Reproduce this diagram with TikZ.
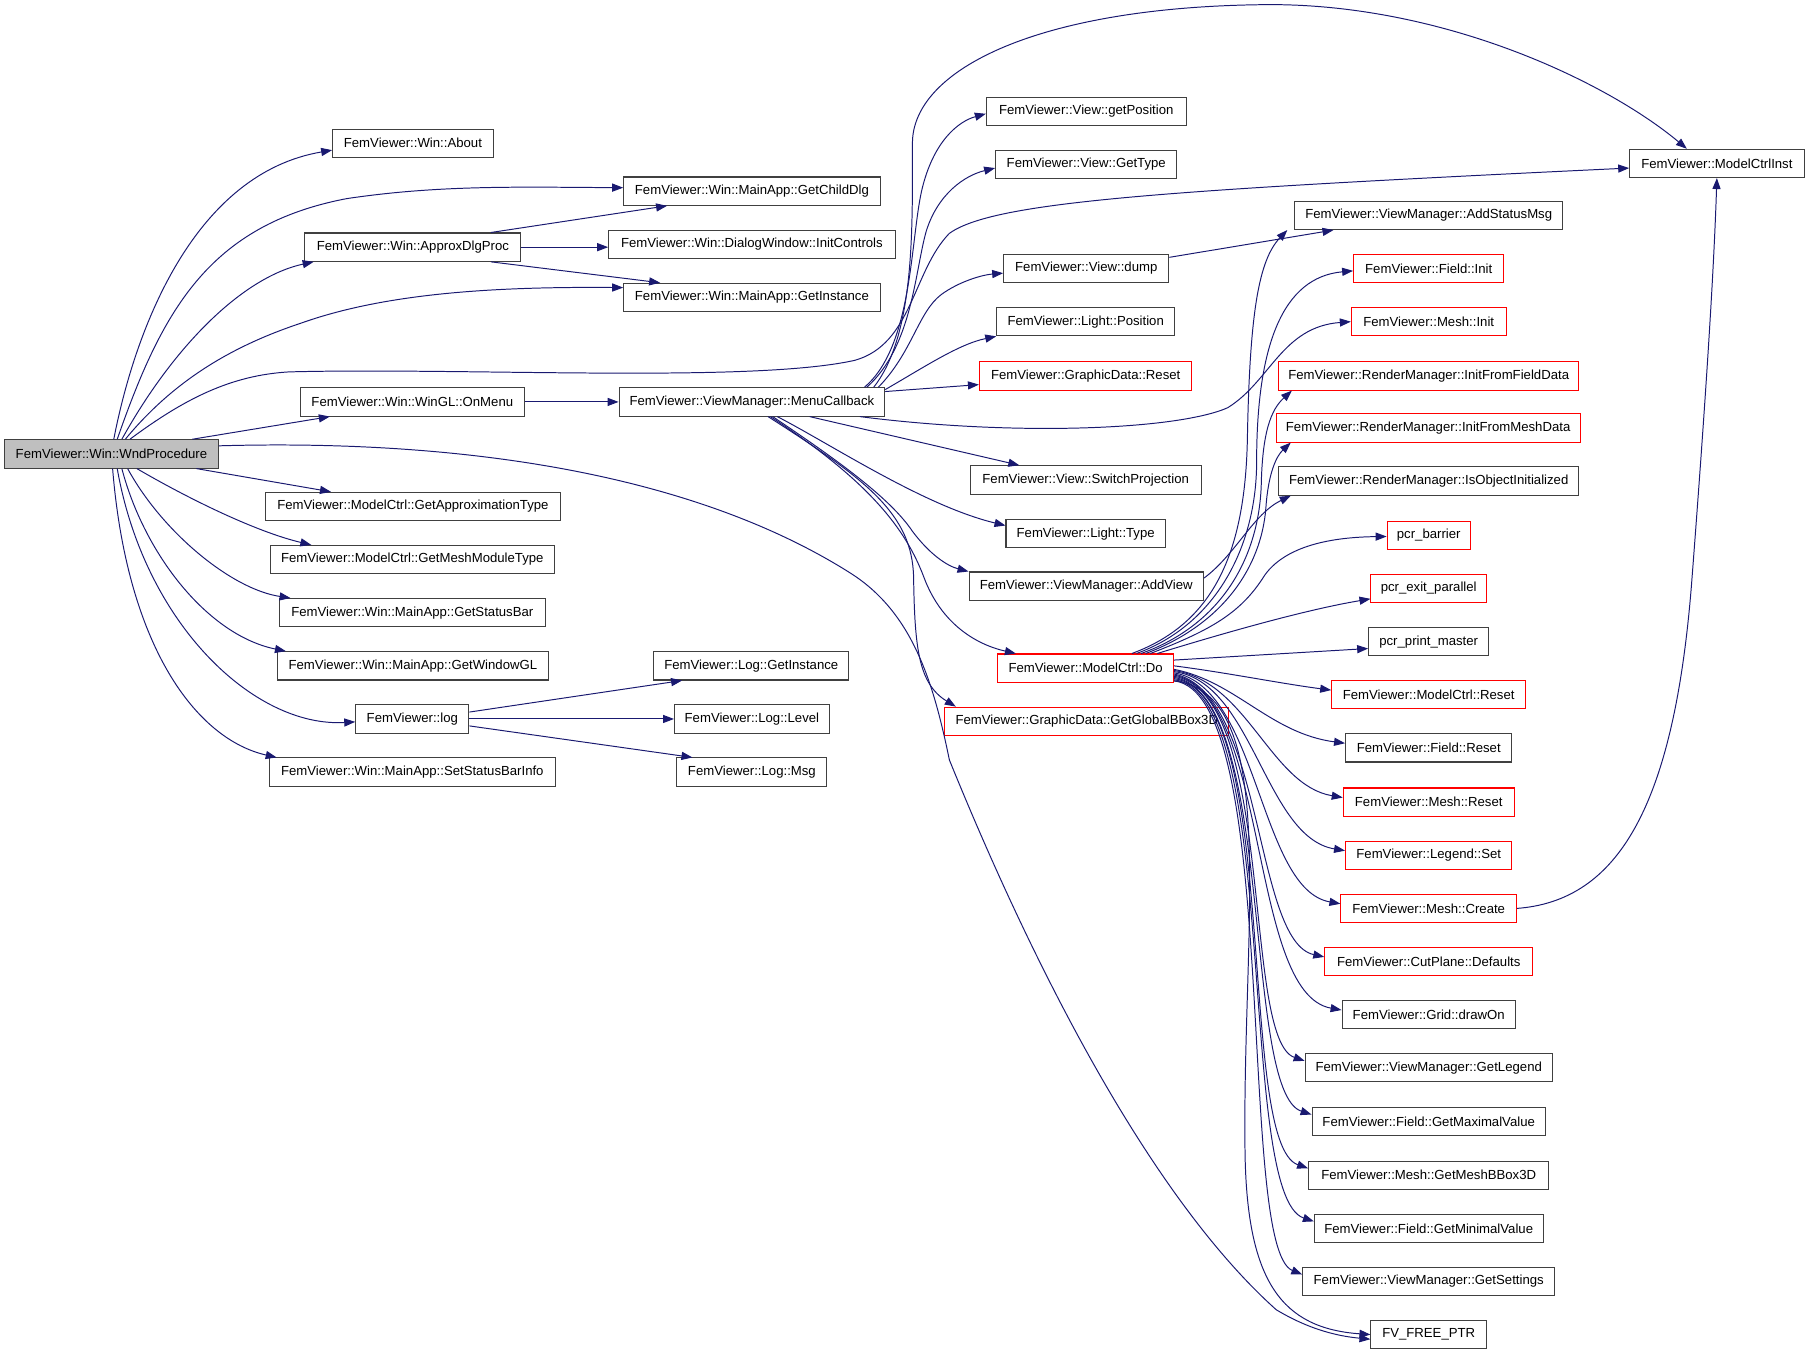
\documentclass[tikz,border=0pt]{standalone}
\usepackage{fontspec}
\setmainfont{Liberation Sans}
\usetikzlibrary{arrows.meta}
\definecolor{edgeblue}{HTML}{191970}
\definecolor{boxgray}{HTML}{404040}
\definecolor{boxred}{HTML}{FF0000}
\definecolor{rootfill}{HTML}{BFBFBF}
\newcommand\dxfont{\fontsize{11.4}{13}\selectfont}
\tikzset{
  fbox/.style={draw=boxgray, fill=white, line width=0.9pt, minimum height=24.5pt, inner sep=0pt, font=\dxfont},
  rbox/.style={fbox, draw=boxred},
  call/.style={draw=edgeblue, line width=0.85pt, -{Triangle[length=9.5pt,width=7pt]}},
}
\begin{document}
\begin{tikzpicture}[x=1pt,y=-1pt]
\useasboundingbox (0,0) rectangle (1568,1175);
% ---------- nodes ----------
\node[fbox, fill=rootfill, minimum width=185pt] (wnd) at (96.5,393) {FemViewer::Win::WndProcedure};
\node[fbox, minimum width=139pt] (about) at (357.5,124) {FemViewer::Win::About};
\node[fbox, minimum width=222pt] (childdlg) at (651,165.5) {FemViewer::Win::MainApp::GetChildDlg};
\node[fbox, minimum width=187pt] (approx) at (357.5,214) {FemViewer::Win::ApproxDlgProc};
\node[fbox, minimum width=248pt] (initctl) at (651,211.5) {FemViewer::Win::DialogWindow::InitControls};
\node[fbox, minimum width=222pt] (getinst) at (651,257.5) {FemViewer::Win::MainApp::GetInstance};
\node[fbox, minimum width=194pt] (onmenu) at (357,348) {FemViewer::Win::WinGL::OnMenu};
\node[fbox, minimum width=230pt] (menucb) at (651,348) {FemViewer::ViewManager::MenuCallback};
\node[fbox, minimum width=255pt] (approxtype) at (357.5,438.5) {FemViewer::ModelCtrl::GetApproximationType};
\node[fbox, minimum width=246pt] (meshmod) at (357,484.5) {FemViewer::ModelCtrl::GetMeshModuleType};
\node[fbox, minimum width=230pt] (statusbar) at (357,530.5) {FemViewer::Win::MainApp::GetStatusBar};
\node[fbox, minimum width=235pt] (windowgl) at (357.5,576.5) {FemViewer::Win::MainApp::GetWindowGL};
\node[fbox, minimum width=98pt] (log) at (357,622.5) {FemViewer::log};
\node[fbox, minimum width=248pt] (setstatus) at (357,668.5) {FemViewer::Win::MainApp::SetStatusBarInfo};
\node[fbox, minimum width=169pt] (loginst) at (650.5,576.5) {FemViewer::Log::GetInstance};
\node[fbox, minimum width=134pt] (loglevel) at (651,622.5) {FemViewer::Log::Level};
\node[fbox, minimum width=130pt] (logmsg) at (651,668.5) {FemViewer::Log::Msg};
\node[fbox, minimum width=173pt] (getpos) at (940.5,96.5) {FemViewer::View::getPosition};
\node[fbox, minimum width=157pt] (gettype) at (940.5,142.5) {FemViewer::View::GetType};
\node[fbox, minimum width=143pt] (dump) at (940.5,232.5) {FemViewer::View::dump};
\node[fbox, minimum width=154pt] (lightpos) at (940,278.5) {FemViewer::Light::Position};
\node[rbox, minimum width=184pt] (gdreset) at (940,325.5) {FemViewer::GraphicData::Reset};
\node[fbox, minimum width=200pt] (switchproj) at (940,415.5) {FemViewer::View::SwitchProjection};
\node[fbox, minimum width=138pt] (lighttype) at (940,462) {FemViewer::Light::Type};
\node[fbox, minimum width=203pt] (addview) at (940.5,507.5) {FemViewer::ViewManager::AddView};
\node[rbox, minimum width=152pt] (mcdo) at (940,578.5) {FemViewer::ModelCtrl::Do};
\node[rbox, minimum width=246pt] (bbox) at (941,624.5) {FemViewer::GraphicData::GetGlobalBBox3D};
\node[fbox, minimum width=151pt] (mcinst) at (1486.5,141.5) {FemViewer::ModelCtrlInst};
\node[fbox, minimum width=232pt] (addstatus) at (1237,186.5) {FemViewer::ViewManager::AddStatusMsg};
\node[rbox, minimum width=130pt] (fieldinit) at (1237,232.5) {FemViewer::Field::Init};
\node[rbox, minimum width=134pt] (meshinit) at (1237,278.5) {FemViewer::Mesh::Init};
\node[rbox, minimum width=260pt] (rmfield) at (1237,325.5) {FemViewer::RenderManager::InitFromFieldData};
\node[rbox, minimum width=263pt] (rmmesh) at (1236.5,370.5) {FemViewer::RenderManager::InitFromMeshData};
\node[fbox, minimum width=260pt] (rminit) at (1237,416.5) {FemViewer::RenderManager::IsObjectInitialized};
\node[rbox, minimum width=72pt] (barrier) at (1237,463.5) {pcr\_barrier};
\node[rbox, minimum width=100pt] (exitpar) at (1237,509.5) {pcr\_exit\_parallel};
\node[fbox, minimum width=104pt] (printm) at (1237,555.5) {pcr\_print\_master};
\node[rbox, minimum width=168pt] (mcreset) at (1237,601.5) {FemViewer::ModelCtrl::Reset};
\node[fbox, minimum width=144pt] (fieldreset) at (1237,647.5) {FemViewer::Field::Reset};
\node[rbox, minimum width=148pt] (meshreset) at (1237,694.5) {FemViewer::Mesh::Reset};
\node[rbox, minimum width=144pt] (legendset) at (1237,740.5) {FemViewer::Legend::Set};
\node[rbox, minimum width=152pt] (meshcreate) at (1237,786.5) {FemViewer::Mesh::Create};
\node[rbox, minimum width=180pt] (cutplane) at (1237,832.5) {FemViewer::CutPlane::Defaults};
\node[fbox, minimum width=150pt] (griddraw) at (1237,878.5) {FemViewer::Grid::drawOn};
\node[fbox, minimum width=214pt] (getlegend) at (1237,924.5) {FemViewer::ViewManager::GetLegend};
\node[fbox, minimum width=202pt] (getmax) at (1237,971) {FemViewer::Field::GetMaximalValue};
\node[fbox, minimum width=208pt] (getbbox) at (1237,1017.5) {FemViewer::Mesh::GetMeshBBox3D};
\node[fbox, minimum width=198pt] (getmin) at (1237,1063.5) {FemViewer::Field::GetMinimalValue};
\node[fbox, minimum width=218pt] (getsettings) at (1237,1109.5) {FemViewer::ViewManager::GetSettings};
\node[fbox, minimum width=100pt] (freeptr) at (1237,1155.5) {FV\_FREE\_PTR};
% ---------- WndProcedure edges ----------
\draw[call] ([xshift=2pt]wnd.north) .. controls (118,280) and (170,150) .. ([yshift=-6pt]about.west);
\draw[call] ([xshift=5pt]wnd.north) .. controls (140,270) and (180,195) .. (300,172) .. controls (380,160) and (450,162) .. ([yshift=3pt]childdlg.west);
\draw[call] ([xshift=9pt]wnd.north) .. controls (150,300) and (210,240) .. ([xshift=8pt]approx.south west);
\draw[call] ([xshift=12pt]wnd.north) .. controls (150,330) and (200,300) .. (260,280) .. controls (330,255) and (420,248) .. ([yshift=8.5pt]getinst.west);
\draw[call] ([xshift=16pt]wnd.north) .. controls (160,345) and (200,325) .. (250,322) .. controls (400,318) and (650,332) .. (740,312) .. controls (790,298) and (790,235) .. (822,202) .. controls (860,175) and (1000,165) .. ([yshift=-4pt]mcinst.west);
\draw[call] ([xshift=70pt]wnd.north) -- ([xshift=26pt]onmenu.south west);
\draw[call] ([yshift=7pt]wnd.east) .. controls (400,380) and (600,410) .. (736,496) .. controls (790,530) and (808,590) .. (822,658) .. controls (900,850) and (1000,1040) .. (1105,1134) .. controls (1135,1152) and (1160,1157) .. ([yshift=-4pt]freeptr.west);
\draw[call] ([xshift=73.5pt]wnd.south) -- ([xshift=57pt]approxtype.north west);
\draw[call] ([xshift=22pt]wnd.south) .. controls (160,430) and (220,460) .. ([xshift=36pt]meshmod.north west);
\draw[call] ([xshift=14pt]wnd.south) .. controls (140,460) and (200,510) .. ([xshift=10pt]statusbar.north west);
\draw[call] ([xshift=9pt]wnd.south) .. controls (125,480) and (180,550) .. ([xshift=8pt]windowgl.north west);
\draw[call] ([xshift=5pt]wnd.south) .. controls (125,540) and (220,630) .. ([yshift=-2.5pt]log.west);
\draw[call] ([xshift=1pt]wnd.south) .. controls (110,560) and (170,640) .. ([xshift=7pt]setstatus.north west);
% ---------- ApproxDlgProc, OnMenu, log ----------
\draw[call] ([xshift=67.5pt]approx.north) -- ([xshift=38pt]childdlg.south west);
\draw[call] (approx.east) -- (approx.east -| initctl.west);
\draw[call] ([xshift=67.5pt]approx.south) -- ([xshift=32pt]getinst.north west);
\draw[call] (onmenu.east) -- (menucb.west);
\draw[call] ([yshift=6pt]log.east) -- ([xshift=25pt]loginst.south west);
\draw[call] (log.east) -- (log.east -| loglevel.west);
\draw[call] ([yshift=-6pt]log.east) -- ([xshift=14pt]logmsg.north west);
% ---------- MenuCallback edges ----------
\draw[call] ([xshift=-18pt]menucb.north east) .. controls (790,300) and (788,210) .. (798,165) .. controls (808,122) and (830,105) .. ([yshift=-2pt]getpos.west);
\draw[call] ([xshift=-16pt]menucb.north east) .. controls (790,300) and (792,235) .. (802,200) .. controls (812,168) and (835,152) .. ([yshift=-3pt]gettype.west);
\draw[call] ([xshift=-10pt]menucb.north east) .. controls (792,290) and (790,200) .. (790,124) .. controls (790,60) and (900,5) .. (1100,4) .. controls (1250,4) and (1390,70) .. ([xshift=-26pt]mcinst.north);
\draw[call] ([xshift=-6pt]menucb.north east) .. controls (790,305) and (795,270) .. (815,255) .. controls (830,244) and (850,238) .. ([yshift=-4pt]dump.west);
\draw[call] ([yshift=-2pt]menucb.north east) .. controls (800,318) and (830,298) .. (lightpos.south west);
\draw[call] ([yshift=9pt]menucb.east) -- ([yshift=-7.5pt]gdreset.west);
\draw[call] ([xshift=-22pt]menucb.south east) .. controls (880,378) and (1020,372) .. (1063,353) .. controls (1100,330) and (1110,283) .. (meshinit.west);
\draw[call] ([xshift=50pt]menucb.south) -- ([xshift=43pt]switchproj.north west);
\draw[call] ([xshift=22pt]menucb.south) .. controls (720,385) and (800,438) .. ([yshift=7pt]lighttype.west);
\draw[call] ([xshift=18pt]menucb.south) .. controls (720,395) and (770,430) .. (790,460) .. controls (805,480) and (820,490) .. (addview.north west);
\draw[call] ([xshift=16pt]menucb.south) .. controls (755,418) and (785,460) .. (800,500) .. controls (815,540) and (845,558) .. ([xshift=16pt]mcdo.north west);
\draw[call] ([xshift=14pt]menucb.south) .. controls (750,415) and (790,445) .. (791,500) .. controls (792,560) and (795,592) .. ([xshift=10pt]bbox.north west);
% ---------- dump, AddView ----------
\draw[call] ([yshift=-3pt]dump.north east) -- ([xshift=34pt]addstatus.south west);
\draw[call] ([yshift=7pt]addview.east) .. controls (1070,480) and (1085,445) .. ([xshift=11pt]rminit.south west);
% ---------- ModelCtrl::Do edges (upward) ----------
\draw[call] ([xshift=40pt]mcdo.north) .. controls (1050,540) and (1078,480) .. (1080,380) .. controls (1082,270) and (1090,225) .. ([xshift=-6pt]addstatus.south west);
\draw[call] ([xshift=44pt]mcdo.north) .. controls (1055,540) and (1088,470) .. (1088,400) .. controls (1088,300) and (1110,240) .. ([yshift=-2pt]fieldinit.west);
\draw[call] ([xshift=48pt]mcdo.north) .. controls (1060,540) and (1090,480) .. (1092,420) .. controls (1093,375) and (1100,355) .. ([xshift=12pt]rmfield.south west);
\draw[call] ([xshift=52pt]mcdo.north) .. controls (1060,540) and (1092,490) .. (1096,440) .. controls (1098,410) and (1105,395) .. ([xshift=13pt]rmmesh.south west);
\draw[call] ([xshift=56pt]mcdo.north) .. controls (1050,545) and (1075,530) .. (1095,498) .. controls (1115,470) and (1160,465) .. ([yshift=-1pt]barrier.west);
\draw[call] ([xshift=62pt]mcdo.north) .. controls (1060,548) and (1130,528) .. ([yshift=-9pt]exitpar.west);
\draw[call] ([yshift=7pt]mcdo.east) -- ([yshift=-6pt]printm.west);
% ---------- ModelCtrl::Do edges (downward) ----------
\draw[call] ([yshift=2pt]mcdo.east) .. controls (1060,582) and (1110,592) .. ([yshift=4pt]mcreset.west);
\draw[call] ([yshift=-1pt]mcdo.east) .. controls (1070,590) and (1100,635) .. ([yshift=4pt]fieldreset.west);
\draw[call] ([yshift=-2pt]mcdo.east) .. controls (1080,590) and (1100,680) .. ([yshift=4pt]meshreset.west);
\draw[call] ([yshift=-3pt]mcdo.east) .. controls (1085,590) and (1095,725) .. ([yshift=4pt]legendset.west);
\draw[call] ([yshift=-4pt]mcdo.east) .. controls (1090,595) and (1090,770) .. ([yshift=4pt]meshcreate.west);
\draw[call] ([yshift=-5pt]mcdo.east) .. controls (1095,600) and (1085,815) .. ([yshift=4pt]cutplane.west);
\draw[call] ([yshift=-6pt]mcdo.east) .. controls (1100,600) and (1080,860) .. ([yshift=4pt]griddraw.west);
\draw[call] ([yshift=-7pt]mcdo.east) .. controls (1105,600) and (1075,900) .. ([yshift=6pt]getlegend.west);
\draw[call] ([yshift=-8pt]mcdo.east) .. controls (1105,600) and (1075,945) .. ([yshift=6pt]getmax.west);
\draw[call] ([yshift=-9pt]mcdo.east) .. controls (1110,600) and (1070,990) .. ([yshift=6pt]getbbox.west);
\draw[call] ([yshift=-10pt]mcdo.east) .. controls (1110,600) and (1070,1035) .. ([yshift=6pt]getmin.west);
\draw[call] ([yshift=-11pt]mcdo.east) .. controls (1110,600) and (1070,1080) .. ([yshift=6pt]getsettings.west);
\draw[call] ([yshift=-11pt]mcdo.east) .. controls (1110,600) and (1075,800) .. (1078,1000) .. controls (1080,1110) and (1110,1150) .. (freeptr.west);
% ---------- Mesh::Create -> ModelCtrlInst ----------
\draw[call] (meshcreate.east) .. controls (1400,780) and (1450,700) .. (1465,500) .. controls (1478,330) and (1484,230) .. (mcinst.south);
\end{tikzpicture}
\end{document}
